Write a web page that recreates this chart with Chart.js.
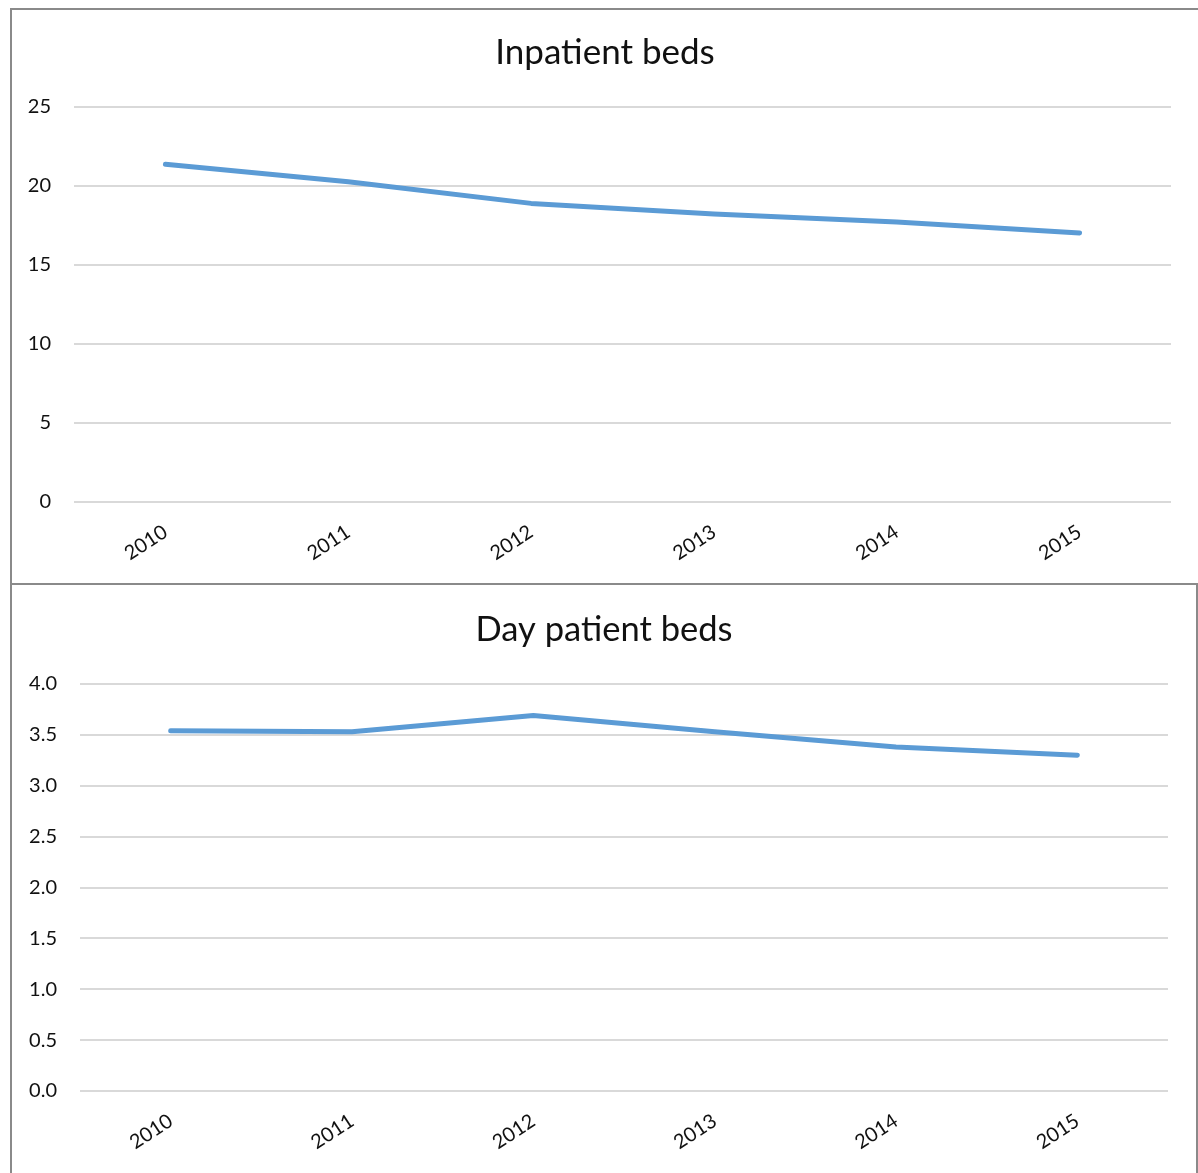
<!DOCTYPE html>
<html>
<head>
<meta charset="utf-8">
<script src="https://cdn.jsdelivr.net/npm/chart.js@4.4.1/dist/chart.umd.min.js"></script>
<style>
    body { margin: 0; background: #fff; }
    .box { position: absolute; box-sizing: content-box; background: #fff; }
    #box1 { left: 10px; top: 8px; width: 1186px; height: 573px;
            border-top: 2px solid #8a8a8a; border-left: 2px solid #8a8a8a; }
    #box2 { left: 10px; top: 583px; width: 1184px; height: 590px;
            border-top: 2px solid #8a8a8a; border-left: 2px solid #8a8a8a; border-right: 2px solid #8a8a8a; }
    canvas { display: block; }
</style>
</head>
<body>
<div class="box" id="box1"><canvas id="inpatientChart" width="1186" height="573"></canvas></div>
<div class="box" id="box2"><canvas id="dayChart" width="1184" height="588"></canvas></div>
<script>
const years = ['2010', '2011', '2012', '2013', '2014', '2015'];
const inpatientBeds = [21.37, 20.27, 18.9, 18.23, 17.72, 17.03];
const dayPatientBeds = [3.54, 3.53, 3.69, 3.53, 3.38, 3.30];
const inpatientTicks = [0, 5, 10, 15, 20, 25];
const dayTicks = [0, 0.5, 1, 1.5, 2, 2.5, 3, 3.5, 4];

const FONT = 'Lato, "Open Sans", sans-serif';
const TEXT = '#111111';

function makeChart(id, title, values, ticks, opts) {
    const ctx = document.getElementById(id).getContext('2d');
    const half = opts.titleSize * 1.2 / 2;
    return new Chart(ctx, {
        type: 'line',
        data: {
            labels: years,
            datasets: [{
                label: title,
                data: values,
                borderColor: '#5B9BD5',
                borderWidth: 5,
                borderCapStyle: 'round',
                borderJoinStyle: 'round',
                pointRadius: 0,
                tension: 0,
                fill: false
            }]
        },
        options: {
            responsive: false,
            animation: false,
            plugins: {
                legend: { display: false },
                tooltip: { enabled: false },
                title: {
                    display: true,
                    text: title,
                    color: TEXT,
                    font: { family: FONT, size: opts.titleSize, weight: 'normal', lineHeight: 1.2 },
                    padding: { top: opts.titleY - half, bottom: opts.areaTop - opts.titleY - half }
                }
            },
            scales: {
                x: {
                    offset: true,
                    grid: { display: false },
                    border: { display: false },
                    ticks: {
                        color: TEXT,
                        font: { family: FONT, size: 20 },
                        minRotation: 33,
                        maxRotation: 33,
                        padding: 10
                    },
                    afterFit: (scale) => { scale.height = opts.xHeight; }
                },
                y: {
                    min: ticks[0],
                    max: ticks[ticks.length - 1],
                    afterBuildTicks: (scale) => { scale.ticks = ticks.map(v => ({ value: v })); },
                    grid: { color: '#d9d9d9', lineWidth: 2, drawTicks: false },
                    border: { display: false },
                    ticks: {
                        color: TEXT,
                        font: { family: FONT, size: 20 },
                        padding: 23,
                        callback: opts.fmt
                    },
                    afterFit: (scale) => { scale.width = opts.yWidth; }
                },
                // empty right gutter so the title stays centred on the whole box
                gutter: {
                    position: 'right',
                    grid: { display: false },
                    border: { display: false },
                    ticks: { display: false },
                    afterFit: (scale) => { scale.width = opts.right; }
                }
            }
        }
    });
}

makeChart('inpatientChart', 'Inpatient beds', inpatientBeds, inpatientTicks, {
    right: 27, titleSize: 35, titleY: 43, areaTop: 97, xHeight: 81, yWidth: 62,
    fmt: (v) => String(v)
});

makeChart('dayChart', 'Day patient beds', dayPatientBeds, dayTicks, {
    right: 28, titleSize: 34.5, titleY: 45, areaTop: 99, xHeight: 82, yWidth: 68,
    fmt: (v) => Number(v).toFixed(1)
});
</script>
</body>
</html>
